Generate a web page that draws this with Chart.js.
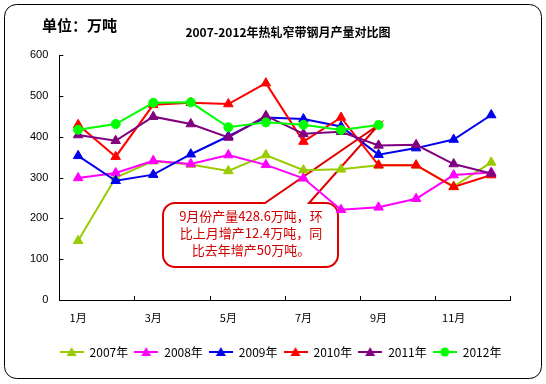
<!DOCTYPE html>
<html>
<head>
<meta charset="utf-8">
<script src="https://cdn.jsdelivr.net/npm/chart.js@4.4.0/dist/chart.umd.min.js"></script>
<style>
  html, body { margin: 0; padding: 0; background: #fff; }
  #wrap { width: 546px; height: 384px; }
</style>
</head>
<body>
<div id="wrap"><canvas id="chart" width="546" height="384"></canvas></div>
<script>
const months = ["1月", "2月", "3月", "4月", "5月", "6月", "7月", "8月", "9月", "10月", "11月", "12月"];
const years = ["2007年", "2008年", "2009年", "2010年", "2011年", "2012年"];
const yTicks = [0, 100, 200, 300, 400, 500, 600];

const y2007 = [145, 300, 340, 332, 316, 355, 318, 320, 330, 330, 278, 337];
const y2008 = [299, 311, 341, 333, 355, 331, 298, 221, 227, 248, 306, 312];
const y2009 = [353, 292, 307, 357, 401, 447, 443, 425, 356, 372, 393, 453];
const y2010 = [429, 351, 478, 483, 480, 531, 388, 447, 330, 330, 277, 306];
const y2011 = [404, 390, 449, 431, 398, 451, 407, 412, 378.6, 380, 333, 310];
const y2012 = [417, 431, 483, 484, 423, 435, 429, 416.2, 428.6, null, null, null];

const titleText = "2007-2012年热轧窄带钢月产量对比图";
const unitText = "单位：万吨";
const calloutLines = ["9月份产量428.6万吨，环", "比上月增产12.4万吨，同", "比去年增产50万吨。"];

const colors = ["#99CC00", "#FF00FF", "#0000EE", "#FF0000", "#800080", "#00FF00"];
const series = [y2007, y2008, y2009, y2010, y2011, y2012];

const CJK = '"Noto Sans CJK SC", "Liberation Sans", sans-serif';

// little line + marker pictures for the legend
function legendIcon(color, circle) {
  const c = document.createElement("canvas");
  c.width = 24;
  c.height = 12;
  const g = c.getContext("2d");
  g.strokeStyle = color;
  g.lineWidth = 2;
  g.beginPath();
  g.moveTo(0, 6);
  g.lineTo(24, 6);
  g.stroke();
  g.fillStyle = color;
  g.beginPath();
  if (circle) {
    g.arc(12, 6, 4.5, 0, Math.PI * 2);
  } else {
    g.moveTo(12, 1);
    g.lineTo(17, 10);
    g.lineTo(7, 10);
    g.closePath();
  }
  g.fill();
  return c;
}
const icons = colors.map((c, i) => legendIcon(c, i === 5));

const decor = {
  id: "decor",
  afterLayout(chart) {
    // legend sits a bit right of centre in the original
    const lg = chart.legend;
    lg.left += 16;
    lg.right += 16;
  },
  beforeDraw(chart) {
    const ctx = chart.ctx;
    ctx.save();
    ctx.fillStyle = "#fff";
    ctx.fillRect(0, 0, chart.width, chart.height);
    ctx.strokeStyle = "#000";
    ctx.lineWidth = 1;
    ctx.beginPath();
    ctx.roundRect(4.5, 4.5, 537, 374, 12);
    ctx.stroke();

    ctx.fillStyle = "#000";
    ctx.textBaseline = "middle";
    ctx.textAlign = "left";
    ctx.font = "bold 15px " + CJK;
    ctx.fillText(unitText, 42, 25);
    ctx.textAlign = "center";
    ctx.font = "bold 12px " + CJK;
    ctx.fillText(titleText, 288, 32);
    ctx.restore();
  },
  beforeDatasetsDraw(chart) {
    const ctx = chart.ctx;
    const xs = chart.scales.x;
    const ys = chart.scales.y;
    const area = chart.chartArea;
    ctx.save();
    ctx.strokeStyle = "#000";
    ctx.lineWidth = 1;
    ctx.beginPath();
    yTicks.forEach(v => {
      const py = Math.round(ys.getPixelForValue(v)) + 0.5;
      ctx.moveTo(area.left, py);
      ctx.lineTo(area.left + 4, py);
    });
    for (let i = 1; i < months.length; i += 2) {
      const px = i === months.length - 1 ? area.right :
        (xs.getPixelForValue(i) + xs.getPixelForValue(i + 1)) / 2;
      const x = Math.round(px) + 0.5;
      ctx.moveTo(x, area.bottom);
      ctx.lineTo(x, area.bottom - 4);
    }
    ctx.stroke();

    // callout box pointing at the 2012 September value
    const tipX = xs.getPixelForValue(8);
    const tipY = ys.getPixelForValue(y2012[8]);
    const L = 163, T = 203, R = 338, B = 267, r = 12;
    ctx.beginPath();
    ctx.moveTo(L + r, T);
    ctx.lineTo(265, T);
    ctx.lineTo(tipX, tipY);
    ctx.lineTo(309, T);
    ctx.arcTo(R, T, R, B, r);
    ctx.arcTo(R, B, L, B, r);
    ctx.arcTo(L, B, L, T, r);
    ctx.arcTo(L, T, R, T, r);
    ctx.closePath();
    ctx.fillStyle = "#fff";
    ctx.fill();
    ctx.strokeStyle = "#E00000";
    ctx.lineWidth = 2;
    ctx.stroke();

    ctx.fillStyle = "#D00000";
    ctx.font = "13px " + CJK;
    ctx.textAlign = "center";
    ctx.textBaseline = "middle";
    calloutLines.forEach((t, i) => ctx.fillText(t, 251, 216 + i * 17));
    ctx.restore();
  }
};

const datasets = series.map((data, i) => ({
  label: years[i],
  data: data,
  borderColor: colors[i],
  backgroundColor: colors[i],
  borderWidth: 2,
  pointStyle: i === 5 ? "circle" : "triangle",
  pointRadius: i === 5 ? 4.5 : 5.5,
  pointBorderWidth: 1,
  pointHoverRadius: 5,
  tension: 0,
  order: 6 - i
}));

new Chart(document.getElementById("chart"), {
  type: "line",
  data: { labels: months, datasets: datasets },
  options: {
    responsive: false,
    animation: false,
    layout: { padding: { left: 19, right: 36, top: 55, bottom: 16 } },
    plugins: {
      title: { display: false },
      tooltip: { enabled: false },
      legend: {
        position: "bottom",
        labels: {
          usePointStyle: true,
          pointStyleWidth: 24,
          padding: 6,
          color: "#000",
          font: { family: CJK, size: 12 },
          sort: (a, b) => a.datasetIndex - b.datasetIndex,
          generateLabels(chart) {
            const items = Chart.defaults.plugins.legend.labels.generateLabels(chart);
            items.forEach(it => { it.pointStyle = icons[it.datasetIndex]; });
            return items;
          }
        }
      }
    },
    scales: {
      x: {
        offset: true,
        grid: { display: false, drawTicks: false },
        border: { color: "#000", width: 1 },
        afterFit: s => { s.height = 40; },
        ticks: {
          autoSkip: false,
          maxRotation: 0,
          padding: 11,
          color: "#000",
          font: { family: CJK, size: 11 },
          callback: (v, i) => (i % 2 === 0 ? months[i] : "")
        }
      },
      y: {
        min: 0,
        max: 600,
        grid: { display: false, drawTicks: false },
        border: { color: "#000", width: 1 },
        ticks: {
          stepSize: 100,
          padding: 11,
          color: "#000",
          font: { family: '"Liberation Sans", sans-serif', size: 11 }
        }
      }
    }
  },
  plugins: [decor]
});
</script>
</body>
</html>
